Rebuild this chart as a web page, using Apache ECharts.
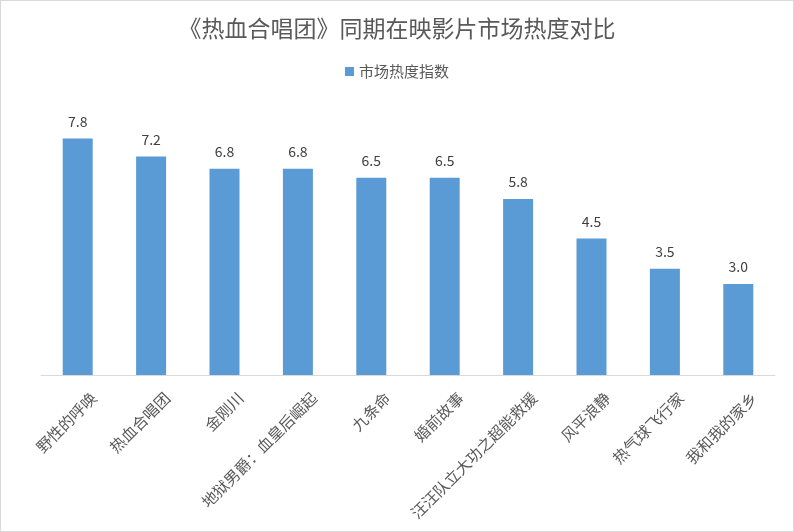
<!DOCTYPE html>
<html>
<head>
<meta charset="utf-8">
<script src="https://cdn.jsdelivr.net/npm/echarts@6/dist/echarts.min.js"></script>
<style>
  html, body { margin: 0; padding: 0; background: #fff; }
  #chart { width: 794px; height: 532px; box-sizing: border-box; border: 1px solid #d9d9d9; }
</style>
</head>
<body>
<div id="chart"></div>
<script>
// 影片名称
const movies = ["野性的呼唤", "热血合唱团", "金刚川", "地狱男爵：血皇后崛起", "九条命",
  "婚前故事", "汪汪队立大功之超能救援", "风平浪静", "热气球飞行家", "我和我的家乡"];
// 市场热度指数
const heatIndex = [7.8, 7.2, 6.8, 6.8, 6.5, 6.5, 5.8, 4.5, 3.5, 3.0];

const font = "'Noto Sans CJK SC', 'Microsoft YaHei', sans-serif";
let chart = echarts.init(document.getElementById('chart'));
let option = {
    animation: false,
    textStyle: { fontFamily: font },
    title: {
        text: "《热血合唱团》同期在映影片市场热度对比",
        left: 'center',
        top: 11,
        textStyle: { fontSize: 23, fontWeight: 'normal', color: '#595959', fontFamily: font }
    },
    legend: {
        data: ["市场热度指数"],
        top: 58,
        left: 'center',
        itemWidth: 9,
        itemHeight: 9,
        itemGap: 8,
        icon: 'rect',
        selectedMode: false,
        textStyle: { fontSize: 15, color: '#595959', fontFamily: font }
    },
    grid: {
        left: 40,
        right: 18,
        top: 101,
        bottom: 156
    },
    xAxis: {
        type: 'category',
        data: movies,
        axisLine: { lineStyle: { color: '#d9d9d9' } },
        axisTick: { show: false },
        axisLabel: {
            rotate: 45,
            interval: 0,
            margin: 4,
            verticalAlign: 'top',
            padding: [15, 0, 0, 0],
            fontSize: 15.5,
            color: '#595959',
            fontFamily: font
        }
    },
    yAxis: {
        type: 'value',
        min: 0,
        max: 9,
        show: false,
        splitLine: { show: false }
    },
    series: [{
        name: "市场热度指数",
        type: 'bar',
        data: heatIndex,
        barWidth: 30,
        itemStyle: { color: '#5b9bd5' },
        label: {
            show: true,
            position: 'top',
            distance: 10,
            fontSize: 14,
            color: '#404040',
            fontFamily: font,
            formatter: p => p.value.toFixed(1)
        }
    }]
};
chart.setOption(option);
</script>
</body>
</html>
